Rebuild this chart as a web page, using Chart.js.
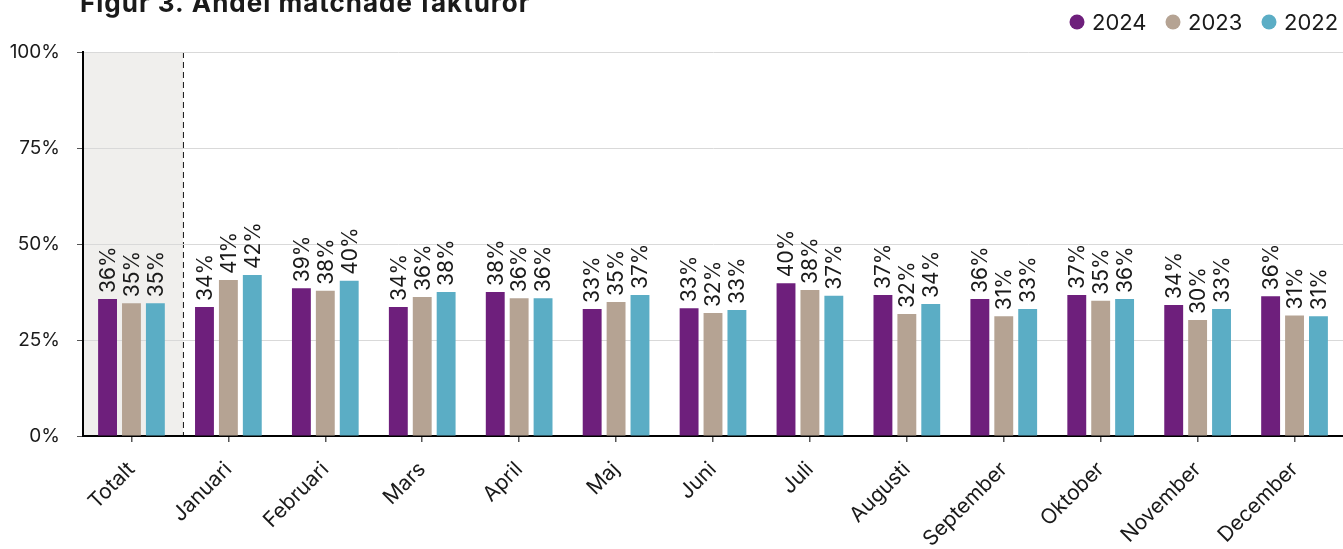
<!DOCTYPE html>
<html>
<head>
<meta charset="utf-8">
<script src="https://cdn.jsdelivr.net/npm/chart.js@4/dist/chart.umd.min.js"></script>
<style>
  html, body { margin: 0; padding: 0; background: #fff; }
  #wrap { width: 1343px; height: 549px; position: relative; }
</style>
</head>
<body>
<div id="wrap"><canvas id="andel_chart"></canvas></div>
<script>
const months = ["Totalt", "Januari", "Februari", "Mars", "April", "Maj", "Juni", "Juli", "Augusti", "September", "Oktober", "November", "December"];
const years = ["2024", "2023", "2022"];
const share_2024 = [35.7, 33.6, 38.5, 33.6, 37.5, 33.1, 33.3, 39.8, 36.7, 35.7, 36.7, 34.1, 36.4];
const share_2023 = [34.6, 40.6, 37.8, 36.2, 35.9, 34.9, 32.0, 38.0, 31.8, 31.2, 35.2, 30.2, 31.4];
const share_2022 = [34.6, 41.9, 40.4, 37.5, 35.9, 36.7, 32.8, 36.5, 34.4, 33.1, 35.7, 33.1, 31.2];
const y_ticks = [0, 25, 50, 75, 100];
const colors = ["#6e1f7c", "#b5a393", "#5badc5"];

const font_family = "Inter, 'Noto Sans', sans-serif";
const text_color = "#1a1a1a";

// grey backdrop + dashed divider behind the "Totalt" group
const totalt_band = {
    id: "totalt_band",
    beforeDraw(chart) {
        const {ctx, chartArea, scales} = chart;
        const x = scales.x;
        const step = x.getPixelForValue(1) - x.getPixelForValue(0);
        const edge = x.getPixelForValue(0) + step / 2 + 3;
        ctx.save();
        ctx.fillStyle = "#f0efed";
        ctx.fillRect(chartArea.left, chartArea.top, edge - chartArea.left, chartArea.bottom - chartArea.top);
        ctx.strokeStyle = "#111";
        ctx.lineWidth = 1;
        ctx.setLineDash([6, 4]);
        ctx.beginPath();
        ctx.moveTo(edge + 0.5, chartArea.top);
        ctx.lineTo(edge + 0.5, chartArea.bottom);
        ctx.stroke();
        ctx.restore();
    }
};

// vertical value labels above each bar
const bar_labels = {
    id: "bar_labels",
    afterDatasetsDraw(chart) {
        const {ctx} = chart;
        ctx.save();
        ctx.font = "21px " + font_family;
        ctx.fillStyle = text_color;
        ctx.textAlign = "left";
        ctx.textBaseline = "middle";
        chart.data.datasets.forEach((ds, i) => {
            chart.getDatasetMeta(i).data.forEach((bar, j) => {
                ctx.save();
                ctx.translate(bar.x + 1, bar.y - 6);
                ctx.rotate(-Math.PI / 2);
                ctx.fillText(Math.round(ds.data[j]) + "%", 0, 0);
                ctx.restore();
            });
        });
        ctx.restore();
    }
};

// title and legend along the top edge
const header = {
    id: "header",
    afterDraw(chart) {
        const {ctx} = chart;
        ctx.save();
        ctx.fillStyle = text_color;
        ctx.font = "bold 26px " + font_family;
        ctx.letterSpacing = "1px";
        ctx.textBaseline = "alphabetic";
        ctx.fillText("Figur 3. Andel matchade fakturor", 80, 12);

        ctx.font = "22px " + font_family;
        ctx.letterSpacing = "0px";
        ctx.textBaseline = "middle";
        let lx = 1077;
        years.forEach((y, i) => {
            ctx.fillStyle = colors[i];
            ctx.beginPath();
            ctx.arc(lx, 22, 7.5, 0, Math.PI * 2);
            ctx.fill();
            ctx.fillStyle = text_color;
            ctx.fillText(y, lx + 15, 23);
            lx += 96;
        });
        ctx.restore();
    }
};

const chart_data = {
    labels: months,
    datasets: [share_2024, share_2023, share_2022].map((d, i) => ({
        label: years[i],
        data: d,
        backgroundColor: colors[i],
        borderWidth: 0,
        categoryPercentage: 0.74,
        barPercentage: 0.79
    }))
};

const chart = new Chart(document.getElementById("andel_chart").getContext("2d"), {
    type: "bar",
    data: chart_data,
    plugins: [totalt_band, bar_labels, header],
    options: {
        responsive: true,
        maintainAspectRatio: false,
        animation: false,
        layout: { padding: { top: 52, left: 0, right: 0, bottom: 0 } },
        plugins: {
            legend: { display: false },
            title: { display: false },
            tooltip: { enabled: false }
        },
        scales: {
            x: {
                afterFit(scale) { scale.height = 113; },
                border: { color: "#000", width: 2 },
                grid: {
                    offset: false,
                    drawOnChartArea: false,
                    drawTicks: true,
                    tickLength: 6,
                    tickColor: "#555",
                    lineWidth: 1.5
                },
                ticks: {
                    minRotation: 45,
                    maxRotation: 45,
                    padding: 15,
                    color: text_color,
                    font: { family: font_family, size: 21 }
                }
            },
            y: {
                min: 0,
                max: 100,
                afterFit(scale) { scale.width = 83; },
                afterBuildTicks(scale) {
                    scale.ticks = y_ticks.map(v => ({ value: v }));
                },
                border: { color: "#000", width: 2 },
                grid: {
                    color: "#d9d9d9",
                    lineWidth: 1,
                    tickColor: "#555",
                    tickLength: 6
                },
                ticks: {
                    padding: 17,
                    color: text_color,
                    font: { family: font_family, size: 19 },
                    callback: v => v + "%"
                }
            }
        }
    }
});
</script>
</body>
</html>
